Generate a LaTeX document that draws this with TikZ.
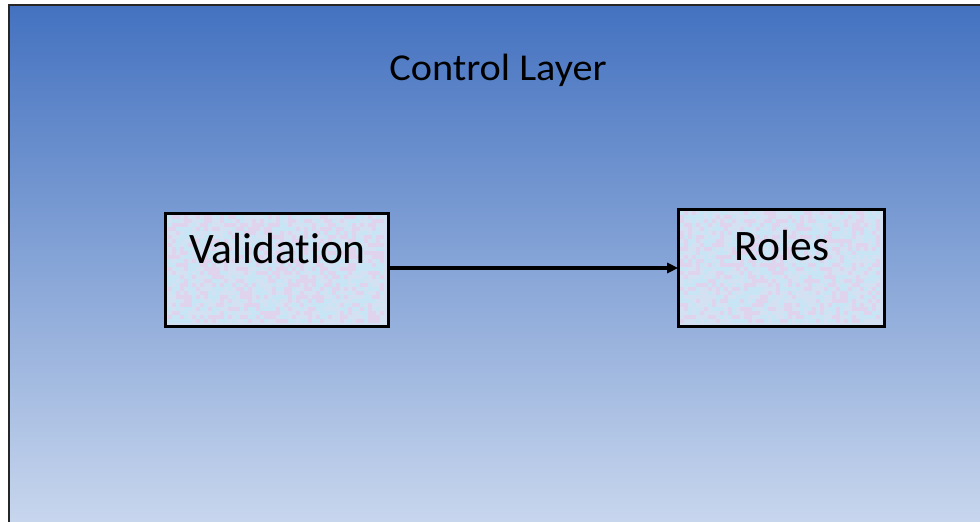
\documentclass[tikz,border=0pt]{standalone}
\usepackage{fontspec}
\setmainfont{Carlito}[Ligatures=NoCommon]
\newfontfamily\titlefont{Carlito}[FakeStretch=1.06]
\usetikzlibrary{arrows.meta}

\definecolor{layertop}{HTML}{4472C0}
\definecolor{layerbottom}{HTML}{CAD8EE}
\definecolor{boxfill}{HTML}{D3E1F3}
\definecolor{speckpink}{HTML}{E0D3EE}
\definecolor{speckcyan}{HTML}{C8E5F5}

\tikzset{
  layerframe/.style={draw=black!85, line width=2pt, top color=layertop, bottom color=layerbottom},
  compbox/.style={draw=black, line width=1.6pt, fill=boxfill, inner sep=0pt},
  boxedge/.style={draw=black, line width=1.6pt},
  boxlabel/.style={font=\fontsize{43.5}{50}\selectfont, anchor=base},
  layertitle/.style={font=\titlefont\fontsize{38}{44}\selectfont, anchor=base},
  flow/.style={line width=3.2pt, -{Triangle[length=11pt,width=10pt]}}
}

% grainy texture: a grid of 4pt cells from corner (#1,#2), #3 columns by #4 rows,
% each cell tinted pink, cyan or left plain
\newcommand{\speckle}[4]{%
  \foreach \gi in {1,...,#3}{%
    \foreach \gj in {1,...,#4}{%
      \pgfmathsetmacro{\sc}{rnd}%
      \ifdim\sc pt<0.33pt
        \fill[speckpink] (#1+\gi*4-4,#2+\gj*4-4) rectangle ++(4,4);
      \else\ifdim\sc pt<0.66pt
        \fill[speckcyan] (#1+\gi*4-4,#2+\gj*4-4) rectangle ++(4,4);
      \fi\fi
    }%
  }}

\begin{document}
\begin{tikzpicture}[x=1pt,y=-1pt]
  \pgfmathsetseed{12345}
  \useasboundingbox (0,0) rectangle (980,522);
  \fill[white] (0,0) rectangle (980,522);
  \clip (0,0) rectangle (980,522);

  % the layer panel
  \path[layerframe] (9,5) rectangle (990,532);
  \node[layertitle] (title) at (498,80) {Control Layer};

  % component boxes
  \node[compbox, minimum width=222pt, minimum height=112pt] (valbox) at (277,270) {};
  \speckle{168}{215}{54}{27}
  \path[boxedge] (valbox.north west) rectangle (valbox.south east);
  \node[boxlabel] (valtext) at (277.5,263) {Validation};

  \node[compbox, minimum width=205pt, minimum height=116pt] (rolbox) at (781.5,268) {};
  \speckle{680}{211}{50}{28}
  \path[boxedge] (rolbox.north west) rectangle (rolbox.south east);
  \node[boxlabel] (roltext) at (782,260) {Roles};

  % connector
  \draw[flow] (valbox.east |- 0,268) -- (rolbox.west |- 0,268);
\end{tikzpicture}
\end{document}
